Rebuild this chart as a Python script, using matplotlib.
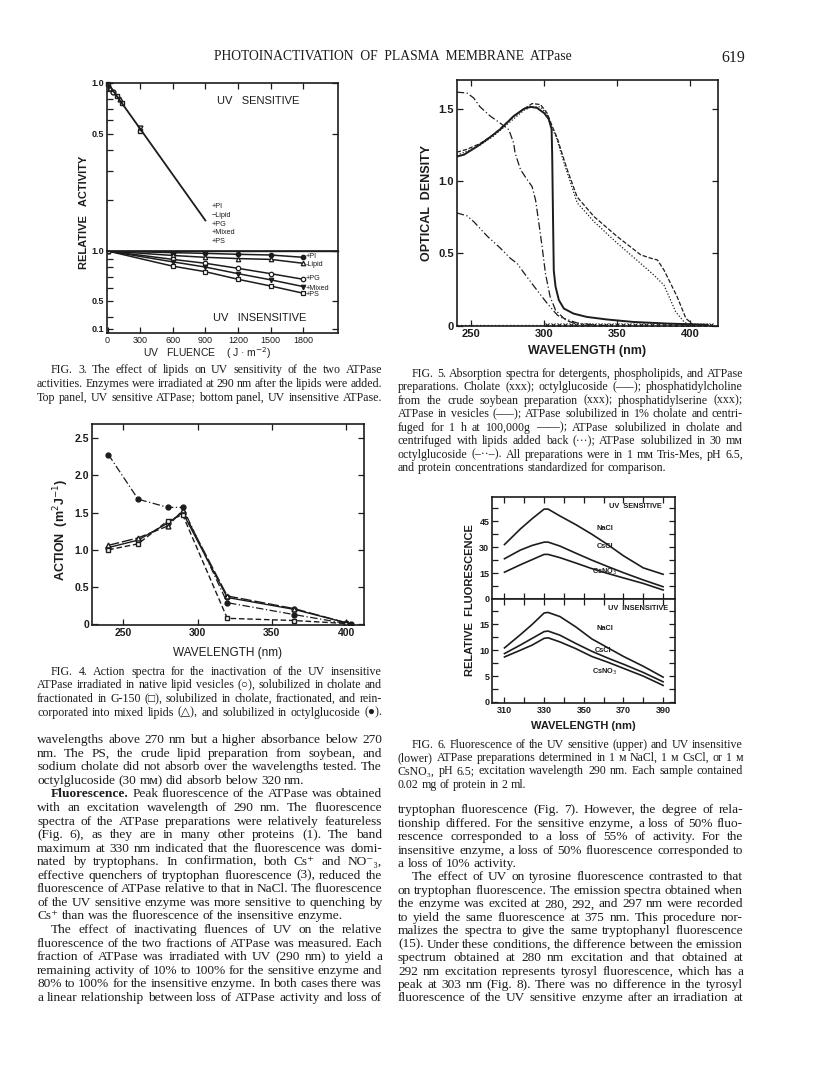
import matplotlib
matplotlib.use("Agg")
import matplotlib.pyplot as plt
from matplotlib.ticker import FixedLocator, NullFormatter

# ---- page geometry (pixels, origin top-left) ----
W, H = 816, 1073
INK = "#1c1c1c"
SERIF = ["Liberation Serif", "DejaVu Serif", "DejaVu Sans"]
SANS = ["Liberation Sans", "DejaVu Sans"]

# ---- Fig. 3 data (UV fluence, relative activity) ----
sens_x = [0, 20, 50, 90, 115, 130, 300, 300]
sens_y = [0.98, 0.93, 0.89, 0.84, 0.80, 0.76, 0.52, 0.54]
sens_mk = ["s", "^", "o", "s", "^", "s", "s", "v"]
sens_fit_x = [0, 900]
sens_fit_y = [1.0, 0.152]
sens_legend = ["+PI", "\u2212Lipid", "+PG", "+Mixed", "+PS"]

ins_x = [0, 600, 900, 1200, 1500, 1800]
ins_pi = [1.0, 0.977, 0.968, 0.955, 0.946, 0.916]
ins_lipid = [1.0, 0.94, 0.916, 0.90, 0.89, 0.843]
ins_pg = [1.0, 0.89, 0.843, 0.786, 0.73, 0.675]
ins_mixed = [1.0, 0.86, 0.80, 0.73, 0.67, 0.61]
ins_ps = [1.0, 0.81, 0.75, 0.675, 0.615, 0.556]
ins_labels = ["+PI", "-Lipid", "+PG", "+Mixed", "+PS"]

# ---- Fig. 4 data (wavelength, action) ----
wl4 = [240, 260, 280, 290, 320, 365, 400]
act_native = [1.03, 1.13, 1.36, 1.50, 0.36, 0.20, 0.02]
act_g150 = [1.00, 1.08, 1.39, 1.47, 0.08, 0.05, 0.01]
act_mixed = [1.06, 1.16, 1.32, 1.53, 0.38, 0.21, 0.02]
wl4_oct = [240, 260, 280, 290, 320, 365, 403]
act_octyl = [2.28, 1.68, 1.57, 1.57, 0.29, 0.13, 0.0]

# ---- Fig. 5 data (wavelength, optical density) ----
solid_x = [240, 245, 254, 261, 270, 279, 286, 290.5, 295, 300, 303, 305, 305.4, 306, 306.5,
           307.7, 310, 313.4, 320, 329, 343, 361, 384, 400, 412]
solid_y = [1.17, 1.183, 1.24, 1.29, 1.36, 1.45, 1.50, 1.514, 1.507, 1.47, 1.43, 1.36, 1.19,
           0.73, 0.38, 0.27, 0.176, 0.118, 0.083, 0.06, 0.042, 0.025, 0.014, 0.009, 0.005]
vesic_x = [240, 247, 256, 265, 277, 286, 291.7, 297.4, 302, 305.4, 308.8, 312.2, 315.7,
           322.5, 334, 350, 366, 371.7, 377.5, 382, 386.6, 391, 397, 402.6]
vesic_y = [1.20, 1.22, 1.26, 1.32, 1.43, 1.50, 1.537, 1.53, 1.47, 1.38, 1.30, 1.19, 1.08,
           0.89, 0.755, 0.616, 0.49, 0.47, 0.454, 0.384, 0.29, 0.20, 0.05, 0.0]
back_x = [240, 247, 256, 265, 277, 286, 291, 297.4, 302, 305.4, 308.8, 312.2, 315.7,
          322.5, 334, 350, 366, 375, 382, 385.5, 390, 395.8, 400]
back_y = [1.18, 1.206, 1.25, 1.31, 1.414, 1.49, 1.514, 1.514, 1.46, 1.368, 1.287, 1.17, 1.06,
          0.85, 0.72, 0.57, 0.43, 0.35, 0.28, 0.20, 0.095, 0.025, 0.0]
octg_x = [240, 247, 251.6, 256, 263, 270, 275.7, 279, 280, 283.7, 288, 291.6, 294, 296,
          298.5, 300.8, 304, 307.7, 313.4, 322.5, 334, 343]
octg_y = [1.616, 1.61, 1.576, 1.514, 1.45, 1.40, 1.356, 1.264, 1.194, 1.08, 1.014, 0.963,
          0.87, 0.73, 0.546, 0.36, 0.20, 0.106, 0.05, 0.018, 0.005, 0.0]
atpoct_x = [240, 247, 251.6, 260.8, 270, 276.8, 281.4, 288, 295, 302, 309, 316, 322.5, 329]
atpoct_y = [0.78, 0.76, 0.72, 0.62, 0.535, 0.465, 0.43, 0.338, 0.245, 0.153, 0.072, 0.032,
            0.009, 0.0]
base_line_x = [240, 300]
base_line_y = [0.004, 0.004]
base_x = [302, 306, 310, 314, 318, 322, 326, 330, 334, 338, 342, 346, 350, 354, 358, 362,
          366, 370, 374, 378, 382, 386, 390, 394, 398, 402, 406, 410, 414]
base_y = [0.004] * len(base_x)

# ---- Fig. 6 data (wavelength, relative fluorescence) ----
wl6 = [310, 318, 324, 330, 332, 338, 346, 354, 362, 370, 380, 390]
sens_nacl = [31.5, 40.5, 46.5, 52, 52, 48, 43, 37.5, 31.5, 25, 18, 14.3]
sens_cscl = [23.3, 28.3, 31, 32.9, 32.9, 30.6, 26.5, 22.5, 18.8, 15.2, 11, 7.1]
sens_csno3 = [15.5, 19.8, 22.8, 25.8, 25.8, 23.9, 20.8, 17.6, 14.8, 12.2, 9, 5.2]
ins_nacl = [10.45, 13, 15, 17.2, 17.3, 16.5, 14.5, 12.2, 10.5, 8.8, 6.9, 4.8]
ins_cscl = [9.35, 11, 12.3, 13.6, 13.7, 12.9, 11.3, 9.8, 8.5, 7.3, 5.7, 3.9]
ins_csno3 = [8.7, 10, 11, 12.3, 12.4, 11.6, 10.3, 8.8, 7.7, 6.5, 5.0, 3.2]

# ---- page text ----
cap3 = [
    ("FIG. 3. The effect of lipids on UV sensitivity of the two ATPase", 14, True),
    ("activities. Enzymes were irradiated at 290 nm after the lipids were added.", 0, True),
    ("Top panel, UV sensitive ATPase; bottom panel, UV insensitive ATPase.", 0, True),
]
cap5 = [
    ("FIG. 5. Absorption spectra for detergents, phospholipids, and ATPase", 14, True),
    ("preparations. Cholate (xxx); octylglucoside (\u2014\u2013); phosphatidylcholine", 0, True),
    ("from the crude soybean preparation (xxx); phosphatidylserine (xxx);", 0, True),
    ("ATPase in vesicles (\u2013\u2013\u2013); ATPase solubilized in 1% cholate and centri-", 0, True),
    ("fuged for 1 h at 100,000g \u2014\u2014); ATPase solubilized in cholate and", 0, True),
    ("centrifuged with lipids added back (\u00b7\u00b7\u00b7); ATPase solubilized in 30 m\u1d0d", 0, True),
    ("octylglucoside (\u2013\u00b7\u00b7\u2013). All preparations were in 1 m\u1d0d Tris-Mes, pH 6.5,", 0, True),
    ("and protein concentrations standardized for comparison.", 0, False),
]
cap4 = [
    ("FIG. 4. Action spectra for the inactivation of the UV insensitive", 14, True),
    ("ATPase irradiated in native lipid vesicles (\u25cb), solubilized in cholate and", 0, True),
    ("fractionated in G-150 (\u25a1), solubilized in cholate, fractionated, and rein-", 0, True),
    ("corporated into mixed lipids (\u25b3), and solubilized in octylglucoside (\u25cf).", 0, True),
]
cap6 = [
    ("FIG. 6. Fluorescence of the UV sensitive (upper) and UV insensitive", 14, True),
    ("(lower) ATPase preparations determined in 1 \u1d0d NaCl, 1 \u1d0d CsCl, or 1 \u1d0d", 0, True),
    ("CsNO\u2083, pH 6.5; excitation wavelength 290 nm. Each sample contained", 0, True),
    ("0.02 mg of protein in 2 ml.", 0, False),
]
body_left = [
    ("wavelengths above 270 nm but a higher absorbance below 270", 0, True),
    ("nm. The PS, the crude lipid preparation from soybean, and", 0, True),
    ("sodium cholate did not absorb over the wavelengths tested. The", 0, True),
    ("octylglucoside (30 m\u1d0d) did absorb below 320 nm.", 0, False),
    ("*Fluorescence. Peak fluorescence of the ATPase was obtained", 14, True),
    ("with an excitation wavelength of 290 nm. The fluorescence", 0, True),
    ("spectra of the ATPase preparations were relatively featureless", 0, True),
    ("(Fig. 6), as they are in many other proteins (1). The band", 0, True),
    ("maximum at 330 nm indicated that the fluorescence was domi-", 0, True),
    ("nated by tryptophans. In confirmation, both Cs\u207a and NO\u207b\u2083,", 0, True),
    ("effective quenchers of tryptophan fluorescence (3), reduced the", 0, True),
    ("fluorescence of ATPase relative to that in NaCl. The fluorescence", 0, True),
    ("of the UV sensitive enzyme was more sensitive to quenching by", 0, True),
    ("Cs\u207a than was the fluorescence of the insensitive enzyme.", 0, False),
    ("The effect of inactivating fluences of UV on the relative", 14, True),
    ("fluorescence of the two fractions of ATPase was measured. Each", 0, True),
    ("fraction of ATPase was irradiated with UV (290 nm) to yield a", 0, True),
    ("remaining activity of 10% to 100% for the sensitive enzyme and", 0, True),
    ("80% to 100% for the insensitive enzyme. In both cases there was", 0, True),
    ("a linear relationship between loss of ATPase activity and loss of", 0, True),
]
body_right = [
    ("tryptophan fluorescence (Fig. 7). However, the degree of rela-", 0, True),
    ("tionship differed. For the sensitive enzyme, a loss of 50% fluo-", 0, True),
    ("rescence corresponded to a loss of 55% of activity. For the", 0, True),
    ("insensitive enzyme, a loss of 50% fluorescence corresponded to", 0, True),
    ("a loss of 10% activity.", 0, False),
    ("The effect of UV on tyrosine fluorescence contrasted to that", 14, True),
    ("on tryptophan fluorescence. The emission spectra obtained when", 0, True),
    ("the enzyme was excited at 280, 292, and 297 nm were recorded", 0, True),
    ("to yield the same fluorescence at 375 nm. This procedure nor-", 0, True),
    ("malizes the spectra to give the same tryptophanyl fluorescence", 0, True),
    ("(15). Under these conditions, the difference between the emission", 0, True),
    ("spectrum obtained at 280 nm excitation and that obtained at", 0, True),
    ("292 nm excitation represents tyrosyl fluorescence, which has a", 0, True),
    ("peak at 303 nm (Fig. 8). There was no difference in the tyrosyl", 0, True),
    ("fluorescence of the UV sensitive enzyme after an irradiation at", 0, True),
]

fig = plt.figure(figsize=(W / 100, H / 100), dpi=100)
renderer = fig.canvas.get_renderer()


def box(x0, y0, x1, y1):
    return fig.add_axes([x0 / W, 1 - y1 / H, (x1 - x0) / W, (y1 - y0) / H])


def put(x, y, s, **kw):
    kw.setdefault("color", INK)
    return fig.text(x / W, 1 - y / H, s, **kw)


def paragraph(lines, x0, x1, y0, dy, size):
    # justified text, one word at a time; squeeze a line that would overflow
    for i, (txt, ind, just) in enumerate(lines):
        yb = y0 + i * dy + size * 0.33
        arts = []
        for w in txt.split(" "):
            bold = w.startswith("*")
            arts.append(put(0, yb, w.lstrip("*"), fontsize=size, family=SERIF,
                            fontweight="bold" if bold else "normal", va="baseline"))
        widths = [a.get_window_extent(renderer).width for a in arts]
        space = size * 0.25 * 100 / 72
        avail = x1 - x0 - ind
        need = sum(widths) + space * 0.8 * (len(arts) - 1)
        if need > avail:
            f = avail / need
            for a in arts:
                a.set_fontsize(size * f)
            widths = [w * f for w in widths]
            space *= f
        gap = space
        if just and len(arts) > 1:
            gap = (avail - sum(widths)) / (len(arts) - 1)
        x = x0 + ind
        for a, w in zip(arts, widths):
            a.set_x(x / W)
            x += w + gap


def style(ax, size=7, weight="bold"):
    for s in ax.spines.values():
        s.set_linewidth(1.2)
        s.set_color(INK)
    ax.tick_params(which="both", direction="in", colors=INK, labelsize=size, pad=2,
                   width=0.9)
    ax.tick_params(which="major", length=4)
    ax.tick_params(which="minor", length=4)
    for lab in ax.get_xticklabels() + ax.get_yticklabels():
        lab.set_family(SANS)
        lab.set_fontweight(weight)


# ---- header ----
hdr = put(393, 57, "PHOTOINACTIVATION  OF  PLASMA  MEMBRANE  ATPase", fontsize=10,
          family=SERIF, ha="center", va="center")
hdr.set_fontsize(10 * 360 / hdr.get_window_extent(renderer).width)
put(745, 58, "619", fontsize=11.5, family=SERIF, ha="right", va="center")

# ---- Fig. 3 ----
a3t = box(107, 83, 338, 251)
a3b = box(107, 251, 338, 333)
a3t.plot(sens_fit_x, sens_fit_y, color=INK, lw=1.3)
for x, y, m in zip(sens_x, sens_y, sens_mk):
    a3t.plot([x], [y], m, ms=3.5, mfc="none", mec=INK, mew=1.0, clip_on=False)
for ax in (a3t, a3b):
    ax.set_yscale("log")
    ax.set_xlim(-5, 2120)
    ax.xaxis.set_major_locator(FixedLocator([0, 300, 600, 900, 1200, 1500, 1800]))
a3t.set_ylim(0.1, 1.0)
a3t.yaxis.set_major_locator(FixedLocator([0.5, 1.0]))
a3t.yaxis.set_minor_locator(FixedLocator([0.2, 0.3, 0.4, 0.6, 0.7, 0.8, 0.9]))
a3t.set_yticklabels(["0.5", "1.0"])
a3t.yaxis.set_minor_formatter(NullFormatter())
a3t.tick_params(axis="x", top=True, bottom=False, labelbottom=False)
a3t.tick_params(axis="y", right=True)

series3 = [(ins_pi, "o", INK), (ins_lipid, "^", "white"), (ins_pg, "o", "white"),
           (ins_mixed, "v", INK), (ins_ps, "s", "white")]
for (vals, m, fc), lab in zip(series3, ins_labels):
    a3b.plot(ins_x, vals, color=INK, lw=1.1, marker=m, ms=3.2, mfc=fc, mec=INK, mew=0.9)
a3b.set_ylim(0.32, 1.0)
a3b.yaxis.set_major_locator(FixedLocator([0.34, 0.5, 1.0]))
a3b.yaxis.set_minor_locator(FixedLocator([0.4, 0.6, 0.7, 0.8, 0.9]))
a3b.set_yticklabels(["0.1", "0.5", "1.0"])
a3b.yaxis.set_minor_formatter(NullFormatter())
a3b.set_xticklabels(["0", "300", "600", "900", "1200", "1500", "1800"])
a3b.tick_params(axis="y", right=True)
style(a3t, 6.5)
style(a3b, 6.5)
for lab in a3b.get_xticklabels():
    lab.set_fontweight("normal")
a3b.spines["top"].set_linewidth(1.0)

put(258, 101, "UV   SENSITIVE", fontsize=8, family=SANS, ha="center", va="center")
put(260, 318, "UV   INSENSITIVE", fontsize=8, family=SANS, ha="center", va="center")
for i, t in enumerate(sens_legend):
    put(212, 207 + i * 8.6, t, fontsize=5.2, family=SANS, va="center")
for t, yy in zip(ins_labels, [257, 265, 279, 288, 295]):
    put(306, yy, t, fontsize=5.2, family=SANS, va="center")
put(84, 212, "RELATIVE   ACTIVITY", fontsize=8, family=SANS, fontweight="bold",
    rotation=90, ha="center", va="center")
put(207, 353, "UV   FLUENCE    ( J \u00b7 m$^{-2}$)", fontsize=7.5, family=SANS,
    ha="center", va="center")
paragraph(cap3, 37, 382, 370, 13.85, 8.6)

# ---- Fig. 5 ----
a5 = box(457, 80, 718, 326)
a5.plot(octg_x, octg_y, color=INK, lw=0.9, ls=(0, (6, 2, 1, 2)))
a5.plot(atpoct_x, atpoct_y, color=INK, lw=0.9, ls=(0, (6, 2, 1, 2, 1, 2)))
a5.plot(vesic_x, vesic_y, color=INK, lw=0.9, ls=(0, (3.5, 1.5)))
a5.plot(back_x, back_y, color=INK, lw=0.9, ls=(0, (1, 1.5)))
a5.plot(solid_x, solid_y, color=INK, lw=1.4)
a5.plot(base_line_x, base_line_y, color=INK, lw=0.9, ls=(0, (1, 2)))
a5.plot(base_x, base_y, "x", color=INK, ms=2.5, mew=0.8)
a5.set_xlim(240.2, 419)
a5.set_ylim(-0.003, 1.70)
a5.set_xticks([250, 300, 350, 400])
a5.set_yticks([0, 0.5, 1.0, 1.5])
a5.set_yticklabels(["0", "0.5", "1.0", "1.5"])
a5.tick_params(top=True, right=True)
style(a5, 8)
put(427, 203, "OPTICAL  DENSITY", fontsize=9, family=SANS, fontweight="bold",
    rotation=90, ha="center", va="center")
put(587, 351, "WAVELENGTH (nm)", fontsize=9, family=SANS, fontweight="bold",
    ha="center", va="center")
paragraph(cap5, 398, 743, 374, 13.47, 8.6)

# ---- Fig. 4 ----
a4 = box(92, 424, 364, 625)
a4.plot(wl4, act_native, color=INK, lw=1.0, marker="o", ms=3.5, mfc="white", mec=INK)
a4.plot(wl4, act_mixed, color=INK, lw=1.0, ls=(0, (8, 2)), marker="^", ms=3.5,
        mfc="white", mec=INK)
a4.plot(wl4, act_g150, color=INK, lw=1.0, ls=(0, (4, 2)), marker="s", ms=3.2,
        mfc="white", mec=INK)
a4.plot(wl4_oct, act_octyl, color=INK, lw=0.9, ls=(0, (6, 2, 1, 2)), marker="o", ms=3.5,
        mfc=INK, mec=INK)
a4.set_xlim(229, 412)
a4.set_ylim(-0.01, 2.69)
a4.set_xticks([250, 300, 350, 400])
a4.set_yticks([0, 0.5, 1.0, 1.5, 2.0, 2.5])
a4.set_yticklabels(["0", "0.5", "1.0", "1.5", "2.0", "2.5"])
a4.tick_params(top=True, right=True)
style(a4, 7.5)
put(61, 530, "ACTION  (m$^{2}$J$^{-1}$)", fontsize=9, family=SANS, fontweight="bold",
    rotation=90, ha="center", va="center")
put(228, 653, "WAVELENGTH (nm)", fontsize=8.5, family=SANS, ha="center", va="center")
paragraph(cap4, 37, 382, 671.7, 13.67, 8.6)

# ---- Fig. 6 ----
a6t = box(492, 497, 675, 599)
a6b = box(492, 599, 675, 703)
for ax, vals, lim in ((a6t, (sens_nacl, sens_cscl, sens_csno3), (0, 59)),
                      (a6b, (ins_nacl, ins_cscl, ins_csno3), (-0.2, 19.9))):
    for v in vals:
        ax.plot(wl6, v, color=INK, lw=1.2)
    ax.set_xlim(303.7, 396)
    ax.set_ylim(*lim)
    ax.xaxis.set_major_locator(FixedLocator([310, 330, 350, 370, 390]))
    ax.xaxis.set_minor_locator(FixedLocator([320, 340, 360, 380]))
    ax.tick_params(axis="both", which="both", top=True, right=True)
a6t.yaxis.set_major_locator(FixedLocator([0, 15, 30, 45]))
a6t.yaxis.set_minor_locator(FixedLocator([7.5, 22.5, 37.5, 52.5]))
a6t.tick_params(axis="x", labelbottom=False)
a6b.yaxis.set_major_locator(FixedLocator([0, 5, 10, 15]))
a6b.yaxis.set_minor_locator(FixedLocator([2.5, 7.5, 12.5, 17.5]))
style(a6t, 6.5)
style(a6b, 6.5)
put(635, 506, "UV  SENSITIVE", fontsize=5.3, family=SANS, fontweight="bold",
    ha="center", va="center")
put(638, 608, "UV  INSENSITIVE", fontsize=5.3, family=SANS, fontweight="bold",
    ha="center", va="center")
for t, x, y in [("NaCl", 605, 528), ("CsCl", 605, 546), ("CsNO$_3$", 605, 572),
                ("NaCl", 605, 629), ("CsCl", 603, 650), ("CsNO$_3$", 605, 672)]:
    put(x, y, t, fontsize=5.3, family=SANS, fontweight="bold", ha="center", va="center")
put(470, 600, "RELATIVE  FLUORESCENCE", fontsize=8, family=SANS, fontweight="bold",
    rotation=90, ha="center", va="center")
put(583, 726, "WAVELENGTH (nm)", fontsize=8, family=SANS, fontweight="bold",
    ha="center", va="center")
paragraph(cap6, 398, 743, 745, 13.33, 8.6)

# ---- running text ----
paragraph(body_left, 37, 382, 740, 13.56, 9.6)
paragraph(body_right, 398, 743, 810, 13.45, 9.6)

fig.savefig("out.png", dpi=100, facecolor="white")
